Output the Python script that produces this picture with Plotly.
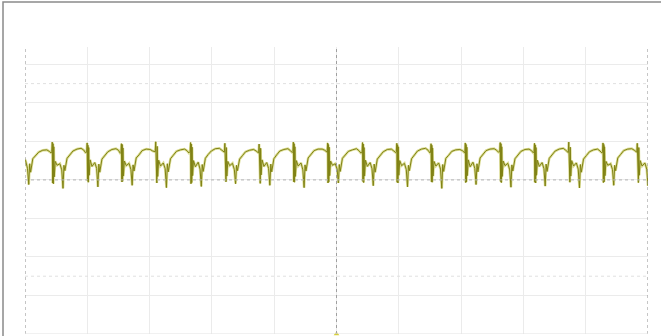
import plotly.graph_objects as go

# scope screen: 10 x 8 divisions, centre at (5, 0); top of screen hidden above 3.45 div
x_range = [0, 10]
y_range = [-4, 3.45]

# time of each tall spike (div)
spike_t = [-0.10, 0.45, 1.01, 1.56, 2.11, 2.67, 3.22, 3.77, 4.32, 4.87,
           5.43, 5.98, 6.53, 7.08, 7.64, 8.19, 8.74, 9.29, 9.84]

# sample times inside one cycle, relative to its spike (div)
cycle_dt = [-0.02, -0.012, -0.006, 0.0, 0.006, 0.012, 0.02, 0.035, 0.065, 0.11,
            0.14, 0.16, 0.175, 0.19, 0.225, 0.27, 0.32, 0.385, 0.45, 0.49, 0.52]

# read values for each cycle (div)
cycle_v = [
    [0.70, 0.93, -0.04, 0.90, -0.06, 0.82, 0.12, 0.52, 0.58, 0.50, 0.30, -0.12, 0.42, 0.20, 0.55, 0.62, 0.72, 0.77, 0.78, 0.74, 0.70],
    [0.74, 0.98, -0.08, 0.94, -0.10, 0.86, 0.08, 0.48, 0.38, 0.42, 0.26, -0.22, 0.38, 0.24, 0.56, 0.66, 0.75, 0.80, 0.82, 0.78, 0.71],
    [0.72, 0.96, -0.03, 0.90, -0.06, 0.84, 0.12, 0.52, 0.35, 0.45, 0.30, -0.18, 0.41, 0.20, 0.54, 0.63, 0.73, 0.79, 0.81, 0.77, 0.69],
    [0.71, 0.94, -0.05, 0.92, -0.04, 0.83, 0.10, 0.49, 0.37, 0.43, 0.27, -0.14, 0.39, 0.23, 0.57, 0.65, 0.76, 0.80, 0.79, 0.75, 0.72],
    [0.73, 0.99, -0.06, 0.95, -0.08, 0.87, 0.09, 0.51, 0.36, 0.44, 0.29, -0.20, 0.42, 0.21, 0.55, 0.64, 0.74, 0.78, 0.80, 0.76, 0.70],
    [0.74, 0.97, -0.10, 0.93, -0.07, 0.85, 0.11, 0.50, 0.34, 0.46, 0.28, -0.17, 0.40, 0.22, 0.56, 0.66, 0.75, 0.81, 0.82, 0.77, 0.71],
    [0.72, 0.95, -0.04, 0.91, -0.05, 0.84, 0.10, 0.48, 0.37, 0.43, 0.27, -0.10, 0.38, 0.24, 0.54, 0.63, 0.73, 0.77, 0.79, 0.75, 0.70],
    [0.70, 0.93, -0.06, 0.90, -0.09, 0.82, 0.13, 0.52, 0.35, 0.45, 0.30, -0.14, 0.41, 0.21, 0.55, 0.65, 0.75, 0.79, 0.81, 0.76, 0.71],
    [0.73, 0.98, -0.05, 0.94, -0.06, 0.86, 0.09, 0.50, 0.36, 0.44, 0.26, -0.20, 0.39, 0.23, 0.57, 0.66, 0.76, 0.80, 0.80, 0.77, 0.72],
    [0.72, 0.96, -0.08, 0.92, -0.05, 0.85, 0.11, 0.49, 0.38, 0.42, 0.28, -0.08, 0.40, 0.22, 0.56, 0.64, 0.74, 0.78, 0.81, 0.76, 0.70],
    [0.71, 0.97, -0.04, 0.93, -0.07, 0.84, 0.10, 0.51, 0.35, 0.45, 0.29, -0.15, 0.41, 0.20, 0.54, 0.63, 0.73, 0.79, 0.80, 0.75, 0.71],
    [0.73, 0.95, -0.06, 0.91, -0.08, 0.86, 0.12, 0.50, 0.37, 0.43, 0.27, -0.18, 0.38, 0.24, 0.55, 0.65, 0.75, 0.80, 0.82, 0.77, 0.70],
    [0.72, 0.94, -0.05, 0.90, -0.06, 0.83, 0.10, 0.48, 0.36, 0.44, 0.28, -0.22, 0.40, 0.22, 0.56, 0.64, 0.74, 0.78, 0.79, 0.76, 0.71],
    [0.70, 0.96, -0.07, 0.92, -0.05, 0.85, 0.11, 0.52, 0.34, 0.46, 0.30, -0.12, 0.42, 0.21, 0.57, 0.66, 0.76, 0.80, 0.81, 0.77, 0.72],
    [0.73, 0.97, -0.04, 0.94, -0.07, 0.86, 0.09, 0.49, 0.37, 0.43, 0.26, -0.19, 0.39, 0.23, 0.55, 0.64, 0.74, 0.79, 0.80, 0.76, 0.70],
    [0.72, 0.95, -0.06, 0.91, -0.08, 0.84, 0.12, 0.51, 0.35, 0.45, 0.29, -0.16, 0.41, 0.22, 0.56, 0.65, 0.75, 0.80, 0.82, 0.77, 0.71],
    [0.71, 0.98, -0.05, 0.93, -0.06, 0.85, 0.10, 0.50, 0.36, 0.44, 0.28, -0.21, 0.40, 0.20, 0.54, 0.63, 0.73, 0.78, 0.80, 0.75, 0.70],
    [0.73, 0.96, -0.07, 0.92, -0.05, 0.86, 0.11, 0.48, 0.38, 0.42, 0.27, -0.14, 0.38, 0.24, 0.57, 0.66, 0.76, 0.80, 0.81, 0.77, 0.72],
    [0.72, 0.95, -0.06, 0.91, -0.07, 0.84, 0.12, 0.50, 0.36, 0.44, 0.28, -0.15, 0.40, 0.22, 0.55, 0.64, 0.74, 0.78, 0.80, 0.76, 0.70],
]

ch1_marker_level = 0.6

t = []
v = []
for i, ts in enumerate(spike_t):
    for dt, val in zip(cycle_dt, cycle_v[i]):
        t.append(ts + dt)
        v.append(val)

olive = '#808214'
glow = '#dcdd96'

fig = go.Figure()

# soft glow under the trace
fig.add_trace(go.Scatter(x=t, y=v, mode='lines', line=dict(color=glow, width=2.6),
                         hoverinfo='skip', showlegend=False))
fig.add_trace(go.Scatter(x=t, y=v, mode='lines', line=dict(color=olive, width=1.0),
                         showlegend=False))

# channel marker on the left and trigger marker at the bottom
fig.add_trace(go.Scatter(x=[-0.05], y=[ch1_marker_level], mode='markers', cliponaxis=False,
                         marker=dict(symbol='triangle-right', size=5, color='#b8b55a'),
                         showlegend=False))
fig.add_trace(go.Scatter(x=[5], y=[y_range[0]], mode='markers', cliponaxis=False,
                         marker=dict(symbol='triangle-up', size=5, color='#d6cf3c'),
                         showlegend=False))

shapes = []
# dashed centre and edge lines
for xv, col in [(0, '#8c8c8c'), (5, '#a0a0a0'), (10, '#8c8c8c')]:
    shapes.append(dict(type='line', xref='x', yref='y', x0=xv, x1=xv, y0=y_range[0], y1=y_range[1],
                       line=dict(color=col, width=1, dash='dot')))
shapes.append(dict(type='line', xref='x', yref='y', x0=0, x1=10, y0=0, y1=0,
                   line=dict(color='#b4b4b4', width=1, dash='dot')))
# faint dotted rows
for yv in [2.5, -2.5]:
    shapes.append(dict(type='line', xref='x', yref='y', x0=0, x1=10, y0=yv, y1=yv,
                       line=dict(color='#e0e0e0', width=1, dash='dot')))
shapes.append(dict(type='line', xref='x', yref='y', x0=0, x1=10, y0=y_range[0], y1=y_range[0],
                   line=dict(color='#e2e2e2', width=1)))
# outer screenshot frame (left and top)
shapes.append(dict(type='path', xref='paper', yref='paper',
                   path='M -0.0353,-0.02 L -0.0353,1.157 L 1.03,1.157',
                   line=dict(color='#8a8a8a', width=1.5)))

fig.update_layout(
    width=661, height=336,
    margin=dict(l=25, r=13, t=47, b=2),
    paper_bgcolor='white', plot_bgcolor='white',
    shapes=shapes,
    xaxis=dict(range=x_range, dtick=1, tick0=0, showgrid=True, gridcolor='#ebebeb', gridwidth=1,
               zeroline=False, showticklabels=False, ticks='', showline=False, fixedrange=True),
    yaxis=dict(range=y_range, dtick=1, tick0=0, showgrid=True, gridcolor='#ebebeb', gridwidth=1,
               zeroline=False, showticklabels=False, ticks='', showline=False, fixedrange=True),
)

fig.write_html("out.html", config={'displayModeBar': False},
               post_script="document.body.style.margin='0';")
